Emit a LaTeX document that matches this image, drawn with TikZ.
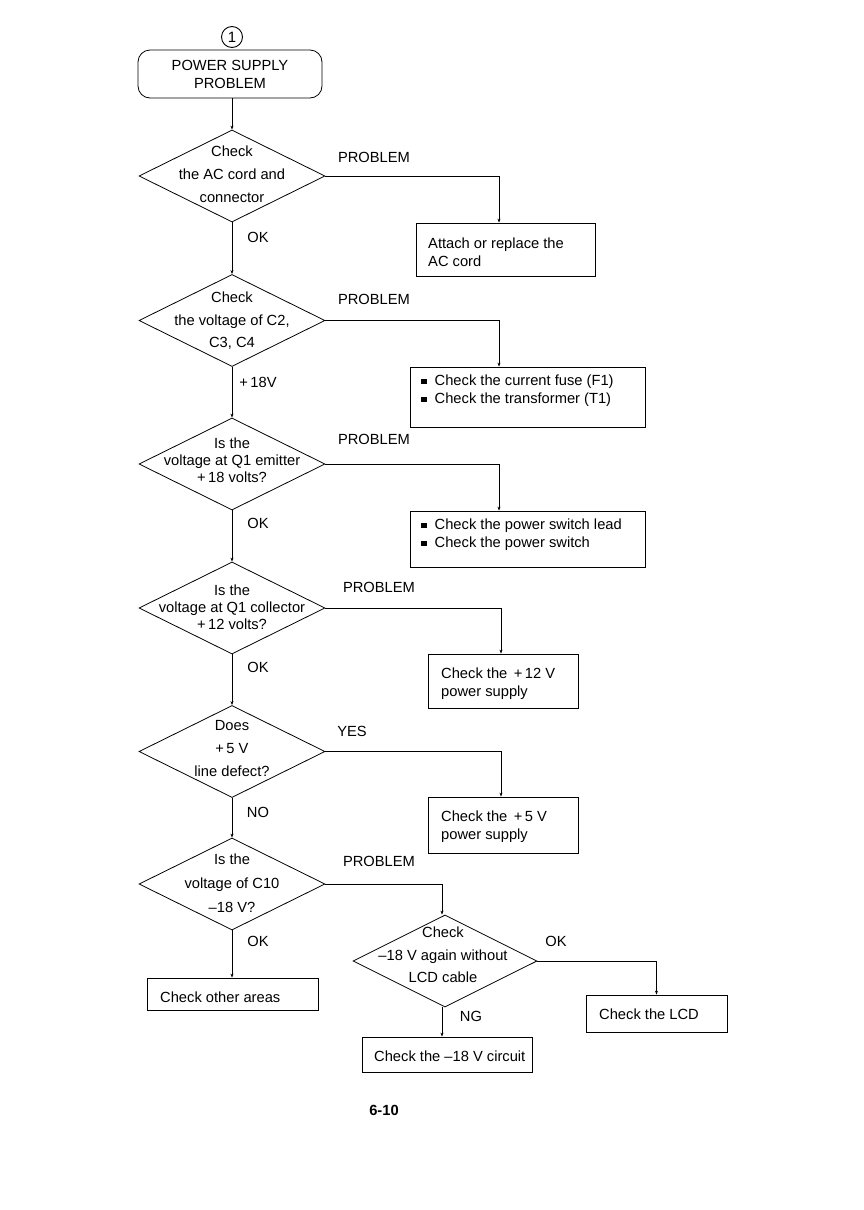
\documentclass[tikz,border=0pt]{standalone}
\usepackage{fontspec}
\setmainfont{Liberation Sans}
\usetikzlibrary{shapes.geometric,arrows.meta}
\begin{document}
\begin{tikzpicture}[x=1pt,y=-1pt,
  every node/.style={font=\fontsize{14.7}{18}\selectfont, inner sep=0pt},
  dec/.style={diamond, draw, line width=0.8pt, minimum width=186pt, minimum height=92pt, inner sep=0pt},
  dtxt/.style={align=center, font=\fontsize{14.7}{#1}\selectfont},
  box/.style={rectangle, draw, line width=0.8pt},
  txt/.style={anchor=west, align=left},
  conn/.style={draw, line width=0.8pt, -{Stealth[length=4pt,width=3pt]}}
]
\useasboundingbox (0,0) rectangle (864,1210);
\newcommand{\blt}{\raisebox{1.5pt}{\rule{5.5pt}{5.5pt}}\hspace{8pt}}

% start
\node[circle, draw, line width=0.9pt, minimum size=21pt, font=\fontsize{15}{15}\selectfont] (c1) at (232,37) {1};
\node[box, rounded corners=12pt, minimum width=184pt, minimum height=48pt, align=center] (start) at (230,74) {POWER SUPPLY\\PROBLEM};

% diamonds
\node[dec] (d1) at (232,176) {};
\node[dtxt=23] (d1t) at (232,174) {Check\\the AC cord and\\connector};
\node[dec] (d2) at (232,320.5) {};
\node[dtxt=22.5] (d2t) at (232,321) {Check\\the voltage of C2,\\C3, C4};
\node[dec] (d3) at (232,464) {};
\node[dtxt=17] (d3t) at (232,460) {Is the\\voltage at Q1 emitter\\+\,18 volts?};
\node[dec] (d4) at (232,608) {};
\node[dtxt=17] (d4t) at (232,607) {Is the\\voltage at Q1 collector\\+\,12 volts?};
\node[dec] (d5) at (232,751.5) {};
\node[dtxt=23] (d5t) at (232,749) {Does\\+\,5 V\\line defect?};
\node[dec] (d6) at (232,884) {};
\node[dtxt=24] (d6t) at (232,883) {Is the\\voltage of C10\\--18 V?};
\node[dec, minimum width=184pt] (d7) at (445,961) {};
\node[dtxt=22.5] (d7t) at (443,955) {Check\\--18 V again without\\LCD cable};

% boxes
\node[box, minimum width=179pt, minimum height=53pt] (b1) at (505.5,249.5) {};
\node[txt] (b1t) at (428,252) {Attach or replace the\\AC cord};
\node[box, minimum width=235pt, minimum height=60pt] (b2) at (527.5,397) {};
\node[txt] (b2t) at (421,391) {\blt Check the current fuse (F1)\\\blt Check the transformer (T1)};
\node[box, minimum width=235pt, minimum height=56pt] (b3) at (527.5,539) {};
\node[txt] (b3t) at (421,535) {\blt Check the power switch lead\\\blt Check the power switch};
\node[box, minimum width=150pt, minimum height=54pt] (b4) at (503,681) {};
\node[txt] (b4t) at (441,684) {Check the \,+\,12 V\\power supply};
\node[box, minimum width=150pt, minimum height=56pt] (b5) at (503,825) {};
\node[txt] (b5t) at (441,827) {Check the \,+\,5 V\\power supply};
\node[box, minimum width=171pt, minimum height=32pt] (b6) at (232.5,994) {};
\node[txt] (b6t) at (160,997) {Check other areas};
\node[box, minimum width=170pt, minimum height=35pt] (b7) at (447,1054.5) {};
\node[txt] (b7t) at (374,1056) {Check the --18 V circuit};
\node[box, minimum width=141pt, minimum height=37pt] (b8) at (656.5,1013.5) {};
\node[txt] (b8t) at (599,1014) {Check the LCD};

% labels
\node (l1) at (374,157) {PROBLEM};
\node (l2) at (258,237) {OK};
\node (l3) at (374,299) {PROBLEM};
\node (l4) at (258,382) {+\,18V};
\node (l5) at (374,439) {PROBLEM};
\node (l6) at (258,523) {OK};
\node (l7) at (379,587) {PROBLEM};
\node (l8) at (258,667) {OK};
\node (l9) at (352,731) {YES};
\node (l10) at (258,812) {NO};
\node (l11) at (379,861) {PROBLEM};
\node (l12) at (258,941) {OK};
\node (l13) at (556,941) {OK};
\node (l14) at (471,1016) {NG};
\node[font=\fontsize{14.7}{18}\selectfont\bfseries] (pg) at (384,1110) {6-10};

% columns for right branches
\coordinate (cA) at (499,0);
\coordinate (cB) at (501,0);
\coordinate (cC) at (442,0);

% connectors
\draw[conn] (start.south -| d1.north) -- (d1.north);
\draw[conn] (d1.south) -- (d2.north);
\draw[conn] (d2.south) -- (d3.north);
\draw[conn] (d3.south) -- (d4.north);
\draw[conn] (d4.south) -- (d5.north);
\draw[conn] (d5.south) -- (d6.north);
\draw[conn] (d6.south) -- (d6.south |- b6.north);
\draw[conn] (d1.east) -| (cA |- b1.north);
\draw[conn] (d2.east) -| (cA |- b2.north);
\draw[conn] (d3.east) -| (cA |- b3.north);
\draw[conn] (d4.east) -| (cB |- b4.north);
\draw[conn] (d5.east) -| (cB |- b5.north);
\draw[conn] (d6.east) -| (cC |- d7.north);
\draw[conn] (d7.east) -| (b8.north);
\draw[conn] (cC |- d7.south) -- (cC |- b7.north);
\end{tikzpicture}
\end{document}
